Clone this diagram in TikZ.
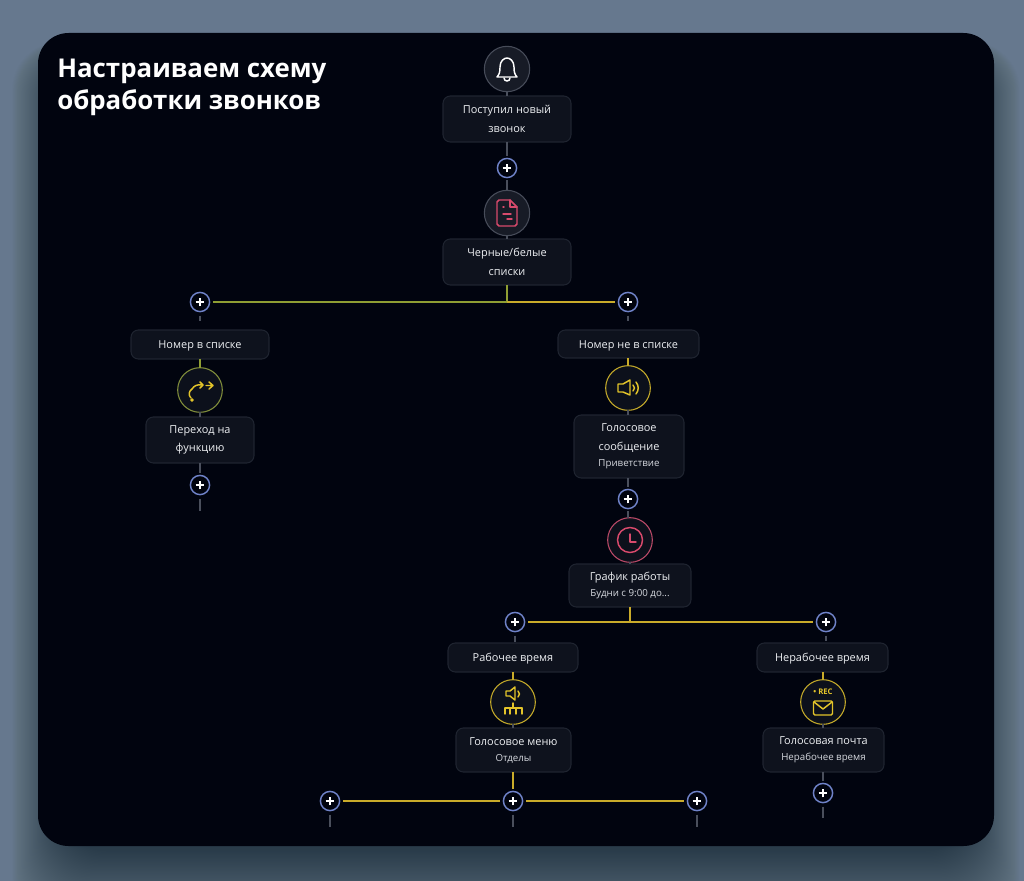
\documentclass[tikz,border=0pt]{standalone}
\usepackage{fontspec}
\setmainfont{Open Sans}
\usetikzlibrary{calc}
\definecolor{bgtop}{HTML}{66788E}
\definecolor{cardc}{HTML}{01040F}
\definecolor{boxf}{HTML}{0E121D}
\definecolor{boxl}{HTML}{1F2430}
\definecolor{circf}{HTML}{171B26}
\definecolor{circg}{HTML}{0C101B}
\definecolor{circl}{HTML}{474C59}
\definecolor{stubc}{HTML}{4A4F5C}
\definecolor{plusc}{HTML}{6F82C8}
\definecolor{pinkc}{HTML}{D84A6C}
\definecolor{yelc}{HTML}{E3C42A}
\definecolor{ringy}{HTML}{C4AA2A}
\definecolor{linec}{HTML}{C9AB2A}
\definecolor{greenl}{HTML}{8F9E33}
\definecolor{txtc}{HTML}{EEF0F3}
\definecolor{subc}{HTML}{D5D8DE}
\tikzset{
  box/.style 2 args={draw=boxl,fill=boxf,line width=0.8pt,rounded corners=5.5pt,
    minimum width=#1*0.75pt,minimum height=#2*0.75pt,inner sep=0pt,outer sep=0pt,
    align=center,text=txtc,font=\fontsize{8.2}{14}\selectfont},
  oneline/.style={text height=6pt,text depth=0pt},
  ring/.style={circle,draw=#1,fill=circf,line width=0.8pt,minimum size=34pt,inner sep=0pt,outer sep=0pt},
  gring/.style={ring=#1,fill=circg,minimum size=33.5pt},
  plusn/.style={circle,draw=plusc,fill=cardc,line width=1.1pt,minimum size=14.4pt,inner sep=0pt,outer sep=0pt,
    path picture={\draw[white,line width=1.1pt] ($(path picture bounding box.center)+(-3.2pt,0)$)--($(path picture bounding box.center)+(3.2pt,0)$)
      ($(path picture bounding box.center)+(0,-3.2pt)$)--($(path picture bounding box.center)+(0,3.2pt)$);}},
  stub/.style={draw=stubc,line width=1pt},
  hline/.style={draw=#1,line width=1.1pt},
  ico/.style={draw=#1,line width=1.1pt,line cap=round,line join=round},
}
\newcommand{\subl}[1]{{\fontsize{7.3}{11}\selectfont\color{subc}#1}}
\begin{document}
\begin{tikzpicture}[x=0.75pt,y=-0.75pt]
\useasboundingbox (0,0) rectangle (1024,881);
\fill[bgtop] (0,0) rectangle (1024,881);
% soft shadow of the card
\foreach \k in {1,...,60}{
  \fill[black,opacity=0.009,rounded corners=36pt] (60-0.8*\k,60-0.3*\k) rectangle (972+0.8*\k,850+1.3*\k);
}
\fill[cardc,rounded corners=23pt] (38,33) rectangle (994,846);
\node[anchor=north west,inner sep=0pt,text=white,align=left,font=\fontsize{19.4}{24.4}\bfseries\selectfont] (title) at (57,58.5) {Настраиваем схему\\обработки звонков};

% nodes
\node[ring=circl] (bell) at (507,69) {};
\node[box={128}{46}] (b1) at (507,119) {Поступил новый\\звонок};
\node[plusn] (p1) at (507,168) {};
\node[ring=circl] (doc) at (507,213) {};
\node[box={128}{46}] (b2) at (507,262) {Черные/белые\\списки};
\coordinate (j1) at (507,302);
\node[plusn] (pl) at (200,302) {};
\node[plusn] (pr) at (628,302) {};
\coordinate (sl) at (200,321);
\coordinate (sr) at (628,321);
% left branch
\node[box={138}{29},oneline] (lt) at (200,344.5) {Номер в списке};
\node[gring=greenl!80!circl] (arr) at (200,390) {};
\node[box={108}{46}] (lf) at (200,440) {Переход на\\функцию};
\node[plusn] (lp) at (200,485) {};
\coordinate (le) at (200,511);
% right branch
\node[box={141}{28},oneline] (rt) at (628.5,344) {Номер не в списке};
\node[gring=ringy] (spk) at (628,388) {};
\node[box={110}{63}] (vm) at (629,446.5) {Голосовое\\сообщение\\[-2pt]\subl{Приветствие}};
\node[plusn] (p2) at (628,499) {};
\node[gring=pinkc!80!circl] (clk) at (630,540) {};
\node[box={122}{43}] (sch) at (630,585.5) {График работы\\[-2pt]\subl{Будни с 9:00 до...}};
\coordinate (j2) at (630,622);
\node[plusn] (ph1) at (515,622) {};
\node[plusn] (ph2) at (826,622) {};
\coordinate (t1) at (515,642);
\coordinate (t2) at (826,641);
% work time
\node[box={130}{29},oneline] (wt) at (513,657.5) {Рабочее время};
\node[gring=ringy] (ivr) at (513,702) {};
\node[box={115}{44}] (men) at (513.5,750) {Голосовое меню\\[-2pt]\subl{Отделы}};
\node[plusn] (pm) at (513,801) {};
\node[plusn] (pa) at (330,801) {};
\node[plusn] (pb) at (697,801) {};
\coordinate (ea) at (330,827);
\coordinate (em) at (513,827);
\coordinate (eb) at (697,827);
% after hours
\node[box={131}{29},oneline] (nt) at (822.5,657.5) {Нерабочее время};
\node[gring=ringy] (vmail) at (823,702) {};
\node[box={121}{44}] (mail) at (823.5,750) {Голосовая почта\\[-2pt]\subl{Нерабочее время}};
\node[plusn] (pe) at (823,793) {};
\coordinate (ee) at (823,818);

% connectors
\draw[stub] (bell.south)--(b1.north);
\draw[stub,shorten >=2pt] (b1.south)--(p1.north);
\draw[stub,shorten <=2pt] (p1.south)--(doc.north);
\draw[stub] (doc.south)--(b2.north);
\draw[hline=greenl,line width=1.4pt] (b2.south)--(j1);
\draw[hline=greenl,line width=1.4pt,shorten <=2.5pt] (pl.east)--(j1);
\draw[hline=linec,line width=1.4pt,shorten <=2.5pt] (pr.west)--(j1);
\draw[stub,shorten <=3pt] (pl.south)--(sl);
\draw[stub,shorten <=3pt] (pr.south)--(sr);
\draw[hline=greenl] (lt.south)--(arr.north);
\draw[stub] (arr.south)--(lf.north);
\draw[stub,shorten >=2pt] (lf.south)--(lp.north);
\draw[stub,shorten <=3pt] (lp.south)--(le);
\draw[hline=linec] (rt.south -| spk)--(spk.north);
\draw[stub] (spk.south)--(spk.south |- vm.north);
\draw[stub,shorten >=2pt] (vm.south -| p2)--(p2.north);
\draw[stub,shorten <=2pt] (p2.south)--(p2.south |- clk.north);
\draw[stub] (clk.south)--(sch.north);
\draw[hline=linec,line width=1.4pt] (sch.south)--(j2);
\draw[hline=linec,shorten <=2.5pt] (ph1.east)--(j2);
\draw[hline=linec,shorten <=2.5pt] (ph2.west)--(j2);
\draw[stub,shorten <=3pt] (ph1.south)--(t1);
\draw[stub,shorten <=3pt] (ph2.south)--(t2);
\draw[hline=linec] (wt.south)--(ivr.north);
\draw[stub] (ivr.south)--(ivr.south |- men.north);
\draw[hline=linec,line width=1.4pt,shorten >=2pt] (men.south -| pm)--(pm.north);
\draw[hline=linec,shorten <=2.5pt,shorten >=2.5pt] (pa.east)--(pm.west);
\draw[hline=linec,shorten <=2.5pt,shorten >=2.5pt] (pm.east)--(pb.west);
\draw[stub,shorten <=3pt] (pa.south)--(ea);
\draw[stub,shorten <=3pt] (pm.south)--(em);
\draw[stub,shorten <=3pt] (pb.south)--(eb);
\draw[hline=linec] (nt.south -| vmail)--(vmail.north);
\draw[stub] (vmail.south)--(vmail.south |- mail.north);
\draw[stub,shorten >=2pt] (mail.south -| pe)--(pe.north);
\draw[stub,shorten <=3pt] (pe.south)--(ee);

% icons
\begin{scope}[shift={(507,69)}]
 \draw[ico=white] (-10,8) .. controls (-7,5) and (-7,1) .. (-7,-2) .. controls (-7,-8) and (-3,-11) .. (0,-11) .. controls (3,-11) and (7,-8) .. (7,-2) .. controls (7,1) and (7,5) .. (10,8) -- cycle;
 \draw[ico=white] (-3,9) .. controls (-3,13) and (3,13) .. (3,9);
\end{scope}
\begin{scope}[shift={(507,213)}]
 \draw[ico=pinkc] (3,-13)--(-8,-13)--(-10,-11)--(-10,11)--(-8,13)--(8,13)--(10,11)--(10,-6)--cycle;
 \draw[ico=pinkc] (3,-13)--(3,-6)--(10,-6);
 \draw[ico=pinkc] (-4,-6)--(-3,-6) (-4,1)--(4,1) (0,6)--(5,6);
\end{scope}
\begin{scope}[shift={(200,390)}]
 \draw[ico=yelc] (-9,8) .. controls (-12,5) and (-11,1) .. (-8,-1) .. controls (-6,-4) and (-3,-6) .. (2,-5);
 \draw[ico=yelc] (-8,10) circle[radius=1];
 \draw[ico=yelc] (0,-8)--(3,-5)--(0,-2);
 \draw[ico=yelc] (6,-4.5)--(13,-4.5) (9,-8)--(13,-4.5)--(9,-1);
\end{scope}
\begin{scope}[shift={(628,388)}]
 \draw[ico=yelc] (-10,-4)--(-5,-4)--(2,-8)--(2,7)--(-5,4)--(-10,4)--cycle;
 \draw[ico=yelc] (5,-3) .. controls (7,-1) and (7,1) .. (5,3);
 \draw[ico=yelc] (8,-6) .. controls (11,-2) and (11,2) .. (8,6);
\end{scope}
\begin{scope}[shift={(630,540)}]
 \draw[ico=pinkc] (0,0) circle[radius=12.5];
 \draw[ico=pinkc] (0,-6)--(0,2)--(6,2);
\end{scope}
\begin{scope}[shift={(513,702)}]
 \draw[ico=yelc] (-7,-11)--(-3,-11)--(2,-15)--(2,-2)--(-3,-6)--(-7,-6)--cycle;
 \draw[ico=yelc] (5,-11) .. controls (7,-9) and (7,-7) .. (5,-5);
 \draw[ico=yelc] (0,1)--(0,6) (-8,6)--(9,6);
 \draw[ico=yelc] (-8,6)--(-8,12) (-3,6)--(-3,12) (3,6)--(3,12) (9,6)--(9,12);
\end{scope}
\begin{scope}[shift={(823,702)}]
 \node[inner sep=0pt,text=yelc,font=\fontsize{5.8}{6}\bfseries\selectfont] (rec) at (0,-10) {• REC};
 \draw[ico=yelc,rounded corners=1pt] (-9.5,-1) rectangle (9.5,13);
 \draw[ico=yelc] (-9,0)--(0,7)--(9,0);
\end{scope}
\end{tikzpicture}
\end{document}
